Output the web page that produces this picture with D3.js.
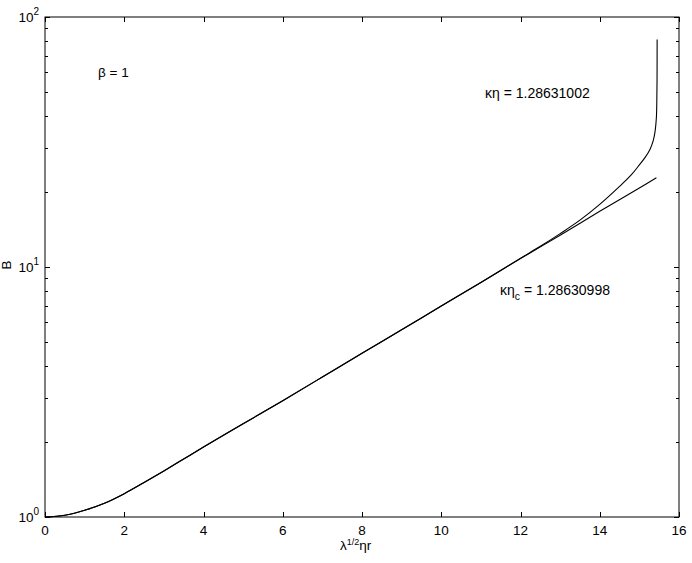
<!DOCTYPE html>
<html><head><meta charset="utf-8">
<script src="https://cdn.jsdelivr.net/npm/d3@7"></script>
<style>body{margin:0;background:#fff}svg{display:block}text{font-family:"Liberation Sans",Arial,sans-serif;fill:#000}</style>
</head><body><svg id="c" width="692" height="563"></svg>
<script>
// data
const xTicks = [0, 2, 4, 6, 8, 10, 12, 14, 16];
const yTicks = [1, 10, 100];
const yTickExp = ["0", "1", "2"];
// critical solution (κη_c = 1.28630998)
const xCrit = [0, 0.5, 1, 1.5, 2, 2.5, 3, 3.5, 4, 5, 6, 7, 8, 9, 10, 11, 12, 13, 14, 15, 15.43];
const bCrit = [1, 1.016, 1.064, 1.135, 1.24, 1.374, 1.528, 1.706, 1.905, 2.36, 2.92, 3.63, 4.52, 5.61, 6.98, 8.67, 10.8, 13.4, 16.7, 20.7, 22.75];
// supercritical (κη = 1.28631002)
const xSup = [0, 0.5, 1, 1.5, 2, 2.5, 3, 3.5, 4, 5, 6, 7, 8, 9, 10, 11, 12, 12.5, 13, 13.5, 14, 14.5, 14.8, 15.0, 15.15, 15.27, 15.35, 15.4, 15.43, 15.44, 15.446, 15.448];
const bSup = [1, 1.016, 1.064, 1.135, 1.24, 1.374, 1.528, 1.706, 1.905, 2.36, 2.92, 3.63, 4.52, 5.61, 6.98, 8.67, 10.84, 12.1, 13.6, 15.4, 17.8, 21.0, 23.4, 25.6, 27.5, 29.6, 32.0, 35.2, 39.8, 45.7, 56.2, 81.3];

const svg = d3.select("#c");
const x = d3.scaleLinear().domain([0, 16]).range([45, 679]);
const y = d3.scaleLog().domain([1, 100]).range([517, 17]);

const g = svg.append("g");
// frame
g.append("rect").attr("x", x(0)).attr("y", y(100)).attr("width", x(16) - x(0)).attr("height", y(1) - y(100))
  .attr("fill", "none").attr("stroke", "#000").attr("stroke-width", 1);

// x ticks (bottom and top, inward)
xTicks.forEach(v => {
  const px = Math.round(x(v)) + 0.5;
  g.append("line").attr("x1", px).attr("x2", px).attr("y1", y(1)).attr("y2", y(1) - 5).attr("stroke", "#000");
  g.append("line").attr("x1", px).attr("x2", px).attr("y1", y(100)).attr("y2", y(100) + 5).attr("stroke", "#000");
  g.append("text").attr("x", x(v)).attr("y", 534.5).attr("text-anchor", "middle").attr("font-size", 13.5).text(v);
});

// y ticks major + minor
const minor = [];
for (let d = 1; d < 100; d *= 10) for (let k = 2; k <= 9; k++) minor.push(d * k);
minor.forEach(v => {
  const py = Math.round(y(v)) + 0.5;
  g.append("line").attr("x1", x(0)).attr("x2", x(0) + 3).attr("y1", py).attr("y2", py).attr("stroke", "#000");
  g.append("line").attr("x1", x(16)).attr("x2", x(16) - 3).attr("y1", py).attr("y2", py).attr("stroke", "#000");
});
yTicks.forEach((v, i) => {
  const py = Math.round(y(v)) + 0.5;
  g.append("line").attr("x1", x(0)).attr("x2", x(0) + 5).attr("y1", py).attr("y2", py).attr("stroke", "#000");
  g.append("line").attr("x1", x(16)).attr("x2", x(16) - 5).attr("y1", py).attr("y2", py).attr("stroke", "#000");
  const t = g.append("text").attr("x", 39).attr("y", y(v) + 5).attr("text-anchor", "end").attr("font-size", 13.5);
  t.append("tspan").text("10");
  t.append("tspan").attr("dy", -7).attr("font-size", 10).text(yTickExp[i]);
});

// curves
const line = d3.line().x((d) => x(d[0])).y((d) => y(d[1])).curve(d3.curveCatmullRom.alpha(0.5));
g.append("path").datum(xCrit.map((v, i) => [v, bCrit[i]])).attr("d", line)
  .attr("fill", "none").attr("stroke", "#000").attr("stroke-width", 1.1);
g.append("path").datum(xSup.map((v, i) => [v, bSup[i]])).attr("d", line)
  .attr("fill", "none").attr("stroke", "#000").attr("stroke-width", 1.1);

// axis labels
const xl = g.append("text").attr("x", 340).attr("y", 550).attr("font-size", 13.5);
xl.append("tspan").text("λ");
xl.append("tspan").attr("dy", -5).attr("font-size", 9).text("1/2");
xl.append("tspan").attr("dy", 5).text("ηr");
g.append("text").attr("transform", "translate(11,265) rotate(-90)").attr("text-anchor", "middle").attr("font-size", 13.5).text("B");

// annotations
g.append("text").attr("x", 98).attr("y", 77).attr("font-size", 13.5).text("β = 1");
g.append("text").attr("x", 485).attr("y", 98).attr("font-size", 14).text("κη = 1.28631002");
const ac = g.append("text").attr("x", 500).attr("y", 295).attr("font-size", 14);
ac.append("tspan").text("κη");
ac.append("tspan").attr("dy", 5).attr("font-size", 10.5).text("c");
ac.append("tspan").attr("dy", -5).text(" = 1.28630998");
</script></body></html>
